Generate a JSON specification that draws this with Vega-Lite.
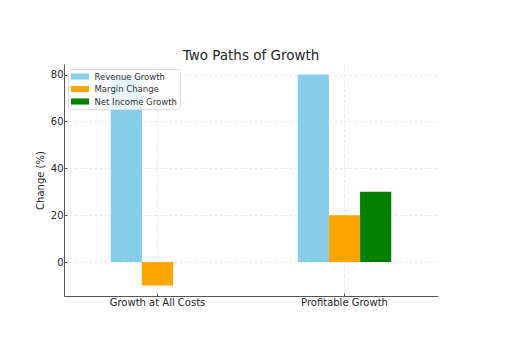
{
  "$schema": "https://vega.github.io/schema/vega-lite/v6.json",
  "autosize": {"type": "none"},
  "padding": {"left": 64, "top": 64, "right": 67, "bottom": 57},
  "width": 374,
  "height": 232,
  "background": "white",
  "title": {
    "text": "Two Paths of Growth",
    "font": "DejaVu Sans",
    "fontSize": 13.5,
    "fontWeight": "normal",
    "color": "#262626",
    "anchor": "middle",
    "frame": "group",
    "offset": 2
  },
  "data": {
    "values": [
      {"strategy": "Growth at All Costs", "metric": "Revenue Growth", "change": 80},
      {"strategy": "Growth at All Costs", "metric": "Margin Change", "change": -10},
      {"strategy": "Growth at All Costs", "metric": "Net Income Growth", "change": 0},
      {"strategy": "Profitable Growth", "metric": "Revenue Growth", "change": 80},
      {"strategy": "Profitable Growth", "metric": "Margin Change", "change": 20},
      {"strategy": "Profitable Growth", "metric": "Net Income Growth", "change": 30}
    ]
  },
  "mark": {"type": "bar"},
  "encoding": {
    "x": {
      "field": "strategy",
      "type": "nominal",
      "sort": null,
      "scale": {"paddingInner": 0.5, "paddingOuter": 0.25},
      "axis": {
        "title": null,
        "labelAngle": 0,
        "bandPosition": 0.5,
        "grid": true
      }
    },
    "xOffset": {
      "field": "metric",
      "type": "nominal",
      "sort": ["Revenue Growth", "Margin Change", "Net Income Growth"],
      "scale": {"paddingInner": 0, "paddingOuter": 0}
    },
    "y": {
      "field": "change",
      "type": "quantitative",
      "scale": {"domain": [-14.5, 84.5], "nice": false, "zero": false},
      "axis": {"title": "Change (%)", "values": [0, 20, 40, 60, 80]}
    },
    "color": {
      "field": "metric",
      "type": "nominal",
      "sort": ["Revenue Growth", "Margin Change", "Net Income Growth"],
      "scale": {
        "domain": ["Revenue Growth", "Margin Change", "Net Income Growth"],
        "range": ["#87CEEB", "#FFA500", "#008000"]
      },
      "legend": {
        "title": null,
        "orient": "none",
        "legendX": 4,
        "legendY": 5,
        "symbolType": "M-2,-0.68H2V0.68H-2Z",
        "symbolSize": 81,
        "symbolOffset": 4.5,
        "symbolStrokeWidth": 0,
        "labelFont": "DejaVu Sans",
        "labelFontSize": 8.5,
        "labelColor": "#333333",
        "labelOffset": 10,
        "rowPadding": 3.5,
        "padding": 3,
        "fillColor": "rgba(255,255,255,0.8)",
        "strokeColor": "#dddddd",
        "cornerRadius": 2
      }
    }
  },
  "config": {
    "view": {"stroke": null},
    "font": "DejaVu Sans",
    "axis": {
      "labelFont": "DejaVu Sans",
      "labelFontSize": 10,
      "labelColor": "#262626",
      "titleFont": "DejaVu Sans",
      "titleFontSize": 10,
      "titleFontWeight": "normal",
      "titleColor": "#262626",
      "domainColor": "#555555",
      "domainWidth": 1,
      "tickColor": "#555555",
      "tickSize": -3,
      "labelPadding": 4,
      "gridColor": "#e3e3e3",
      "gridDash": [3, 2],
      "gridWidth": 0.8
    },
    "axisY": {"titlePadding": 5},
    "axisX": {"labelPadding": 4}
  }
}
